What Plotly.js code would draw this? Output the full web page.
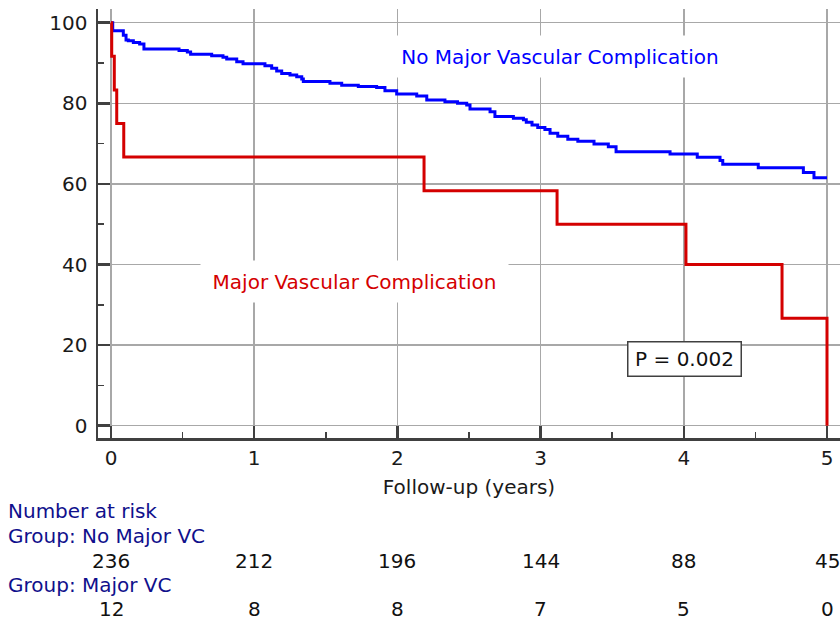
<!DOCTYPE html>
<html>
<head>
<meta charset="utf-8">
<script src="https://cdn.plot.ly/plotly-3.0.1.min.js"></script>
<style>html,body{margin:0;padding:0;background:#fff;}#chart{width:840px;height:625px;}</style>
</head>
<body>
<div id="chart"></div>
<script>
// Kaplan-Meier: No Major Vascular Complication (blue)
var noMajorTime = [0, 0.012, 0.086, 0.105, 0.121, 0.156, 0.2, 0.23, 0.475, 0.533, 0.556, 0.703, 0.782, 0.808, 0.878, 0.922,
  1.075, 1.122, 1.157, 1.192, 1.25, 1.297, 1.332, 1.343, 1.529, 1.611, 1.727, 1.855, 1.913, 1.995,
  2.135, 2.205, 2.332, 2.42, 2.484, 2.507, 2.647, 2.681, 2.81, 2.88, 2.90, 2.94, 2.98,
  3.03, 3.066, 3.12, 3.19, 3.26, 3.373, 3.473, 3.527, 3.904, 4.094, 4.253, 4.272, 4.52, 4.835, 4.909, 5.0];
var noMajorSurv = [100, 98.0, 96.9, 95.7, 95.5, 95.1, 94.7, 93.5, 93.1, 92.7, 92.2, 91.8, 91.4, 91.0, 90.3, 89.8,
  89.3, 88.7, 88.0, 87.4, 87.0, 86.6, 86.0, 85.4, 85.0, 84.5, 84.2, 83.9, 83.1, 82.3,
  81.8, 80.8, 80.4, 80.0, 79.6, 78.6, 77.9, 76.7, 76.3, 75.9, 75.3, 74.6, 74.0,
  73.5, 72.6, 71.8, 71.1, 70.6, 69.9, 69.2, 68.0, 67.4, 66.6, 65.8, 64.9, 64.0, 62.8, 61.5, 61.5];

// Kaplan-Meier: Major Vascular Complication (red)
var majorTime = [0, 0.005, 0.023, 0.040, 0.089, 2.186, 3.115, 4.015, 4.686, 5.0];
var majorSurv = [100, 91.67, 83.33, 75, 66.67, 58.33, 50, 40, 26.67, 0];

// Number at risk table
var atRiskYears = [0, 1, 2, 3, 4, 5];
var atRiskNoMajor = [236, 212, 196, 144, 88, 45];
var atRiskMajor = [12, 8, 8, 7, 5, 0];

var xTickVals = [0, 1, 2, 3, 4, 5];
var yTickVals = [0, 20, 40, 60, 80, 100];

var FONT = 'DejaVu Sans, Verdana, sans-serif';
var NAVY = '#10108c';
var AXC = '#404040';
var GRID = '#a8a8a8';

var traces = [
  {x: noMajorTime, y: noMajorSurv, type: 'scatter', mode: 'lines',
   line: {shape: 'hv', color: '#0000ff', width: 3}, name: 'No Major Vascular Complication', hoverinfo: 'x+y'},
  {x: majorTime, y: majorSurv, type: 'scatter', mode: 'lines',
   line: {shape: 'hv', color: '#d40000', width: 3}, name: 'Major Vascular Complication', hoverinfo: 'x+y'}
];

var mL = 98, mT = 9, plotH = 429;
function paperY(py) { return (mT + plotH - py) / plotH; }
function paperX(px) { return (px - mL) / 742; }

var annotations = [
  {x: 3.135, y: 91.6, xref: 'x', yref: 'y', text: 'No Major Vascular Complication', showarrow: false,
   font: {family: FONT, size: 20, color: '#0000ff'}, bgcolor: '#ffffff', borderpad: 0, width: 344, height: 41,
   xanchor: 'center', yanchor: 'middle'},
  {x: 1.70, y: 35.8, xref: 'x', yref: 'y', text: 'Major Vascular Complication', showarrow: false,
   font: {family: FONT, size: 20, color: '#d40000'}, bgcolor: '#ffffff', borderpad: 0, width: 307, height: 41,
   xanchor: 'center', yanchor: 'middle'},
  {x: 4.008, y: 16.6, xref: 'x', yref: 'y', text: 'P = 0.002', showarrow: false,
   font: {family: FONT, size: 20, color: '#111111'}, bgcolor: '#ffffff', bordercolor: AXC, borderwidth: 1.5,
   borderpad: 0, width: 112, height: 33, xanchor: 'center', yanchor: 'middle'},
  {x: paperX(6), y: paperY(511), xref: 'paper', yref: 'paper', text: 'Number at risk', showarrow: false,
   font: {family: FONT, size: 20, color: NAVY}, xanchor: 'left', yanchor: 'middle'},
  {x: paperX(6), y: paperY(536), xref: 'paper', yref: 'paper', text: 'Group: No Major VC', showarrow: false,
   font: {family: FONT, size: 20, color: NAVY}, xanchor: 'left', yanchor: 'middle'},
  {x: paperX(6), y: paperY(585), xref: 'paper', yref: 'paper', text: 'Group: Major VC', showarrow: false,
   font: {family: FONT, size: 20, color: NAVY}, xanchor: 'left', yanchor: 'middle'}
];
atRiskYears.forEach(function (yr, i) {
  annotations.push({x: yr, y: paperY(561), xref: 'x', yref: 'paper', text: String(atRiskNoMajor[i]),
    showarrow: false, font: {family: FONT, size: 20, color: '#111111'}, xanchor: 'center', yanchor: 'middle'});
  annotations.push({x: yr, y: paperY(609), xref: 'x', yref: 'paper', text: String(atRiskMajor[i]),
    showarrow: false, font: {family: FONT, size: 20, color: '#111111'}, xanchor: 'center', yanchor: 'middle'});
});

var axisCommon = {
  ticks: 'inside', ticklen: 12, tickwidth: 2.5, tickcolor: AXC,
  showline: true, linecolor: AXC, linewidth: 2.5,
  showgrid: true, gridcolor: GRID, gridwidth: 1.5, zeroline: false,
  tickfont: {family: FONT, size: 20, color: '#1a1a1a'}, fixedrange: true
};

var layout = {
  width: 840, height: 625,
  margin: {l: mL, r: 0, t: mT, b: 625 - mT - plotH, pad: 0},
  paper_bgcolor: '#ffffff', plot_bgcolor: '#ffffff',
  showlegend: false,
  font: {family: FONT, size: 20, color: '#1a1a1a'},
  xaxis: Object.assign({}, axisCommon, {
    range: [-0.0908, 5.0908], tickmode: 'array', tickvals: xTickVals,
    minor: {dtick: 0.5, tick0: 0, ticks: 'inside', ticklen: 6, tickwidth: 1.5, tickcolor: AXC, showgrid: false},
    title: {text: 'Follow-up (years)', font: {family: FONT, size: 20, color: '#1a1a1a'}, standoff: 12}
  }),
  yaxis: Object.assign({}, axisCommon, {
    range: [-3.05, 103.4], tickmode: 'array', tickvals: yTickVals, ticklabelstandoff: 4,
    minor: {dtick: 10, tick0: 0, ticks: 'inside', ticklen: 6, tickwidth: 1.5, tickcolor: AXC, showgrid: false}
  }),
  annotations: annotations
};

Plotly.newPlot('chart', traces, layout, {displayModeBar: false, staticPlot: true});
</script>
</body>
</html>
